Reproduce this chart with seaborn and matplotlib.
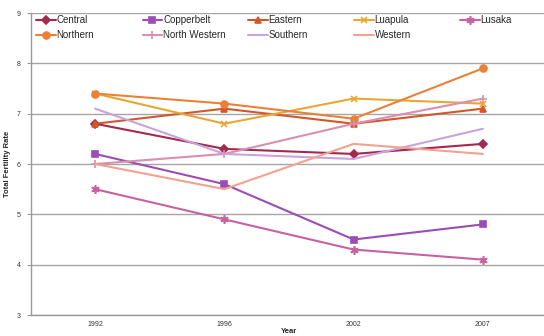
import matplotlib
matplotlib.use("Agg")
import matplotlib.pyplot as plt
from matplotlib.legend import Legend
import seaborn as sns
import pandas as pd

years = ["1992", "1996", "2002", "2007"]
central = [6.8, 6.3, 6.2, 6.4]
copperbelt = [6.2, 5.6, 4.5, 4.8]
eastern = [6.8, 7.1, 6.8, 7.1]
luapula = [7.4, 6.8, 7.3, 7.2]
lusaka = [5.5, 4.9, 4.3, 4.1]
northern = [7.4, 7.2, 6.9, 7.9]
north_western = [6.0, 6.2, 6.8, 7.3]
southern = [7.1, 6.2, 6.1, 6.7]
western = [6.0, 5.5, 6.4, 6.2]

provinces = ["Central", "Copperbelt", "Eastern", "Luapula", "Lusaka",
             "Northern", "North Western", "Southern", "Western"]
series = [central, copperbelt, eastern, luapula, lusaka,
          northern, north_western, southern, western]

colors = {
    "Central": "#a3294f",
    "Copperbelt": "#9b4db5",
    "Eastern": "#d2572a",
    "Luapula": "#e8a733",
    "Lusaka": "#c8619f",
    "Northern": "#ea8137",
    "North Western": "#d98faf",
    "Southern": "#c9a3dd",
    "Western": "#f2a38f",
}
markers = {
    "Central": "D",
    "Copperbelt": "s",
    "Eastern": "^",
    "Luapula": "x",
    "Lusaka": (6, 2, 0),
    "Northern": "o",
    "North Western": "+",
    "Southern": None,
    "Western": None,
}
marker_sizes = {"D": 4, "s": 4.5, "^": 4.5, "x": 5, "o": 5, "+": 6}
marker_sizes[(6, 2, 0)] = 6

rows = []
for name, vals in zip(provinces, series):
    for yr, v in zip(years, vals):
        rows.append({"Year": yr, "Rate": v, "Province": name})
df = pd.DataFrame(rows)

sns.set_style("white")
plt.rcParams["font.family"] = ["Liberation Sans", "DejaVu Sans"]

fig = plt.figure(figsize=(5.44, 3.36), dpi=100)
ax = fig.add_axes([0.0561, 0.0625, 0.9504, 0.8988])

for name in provinces:
    sub = df[df["Province"] == name]
    m = markers[name]
    kw = {}
    if m is not None:
        kw = dict(marker=m, markersize=marker_sizes[m], markeredgewidth=1.2,
                  markeredgecolor=colors[name])
    sns.lineplot(data=sub, x="Year", y="Rate", color=colors[name],
                 linewidth=1.5, sort=False, ax=ax, label=name, **kw)

ax.set_ylim(3, 9)
ax.set_yticks(range(3, 10))
ax.set_xlim(-0.5, 3.5)
ax.set_xticks(range(4))
ax.set_xticklabels(years)
ax.set_xticks([0.5, 1.5, 2.5], minor=True)
ax.tick_params(axis="x", which="major", length=0, labelsize=5, pad=4, colors="#333333")
ax.tick_params(axis="x", which="minor", length=3, width=0.8, color="#999999")
ax.tick_params(axis="y", length=3, width=0.8, color="#999999", labelsize=5,
               pad=4, colors="#333333", left=True)
ax.yaxis.grid(True, color="#a6a6a6", linewidth=1)
ax.set_axisbelow(True)
for side in ["top", "right"]:
    ax.spines[side].set_visible(False)
for side in ["left", "bottom"]:
    ax.spines[side].set_color("#999999")
    ax.spines[side].set_linewidth(1)

ax.set_xlabel("Year", fontsize=5.5, fontweight="bold", labelpad=0)
ax.set_ylabel("Total Fertility Rate", fontsize=5.5, fontweight="bold", labelpad=4)

# Legend laid out as five evenly spaced columns, filled row by row
handles, labels = ax.get_legend_handles_labels()
if ax.get_legend() is not None:
    ax.get_legend().remove()
lookup = dict(zip(labels, handles))
col_x = [0.011, 0.217, 0.421, 0.626, 0.831]
for j, x0 in enumerate(col_x):
    names = [provinces[j]]
    if j + 5 < len(provinces):
        names.append(provinces[j + 5])
    leg = Legend(ax, [lookup[n] for n in names], names, loc="upper left",
                 bbox_to_anchor=(x0, 0.993), frameon=False, fontsize=7,
                 handlelength=2.0, handletextpad=0.1, labelspacing=0.55,
                 borderpad=0.0, borderaxespad=0.0)
    ax.add_artist(leg)

fig.savefig("out.png", dpi=100)
